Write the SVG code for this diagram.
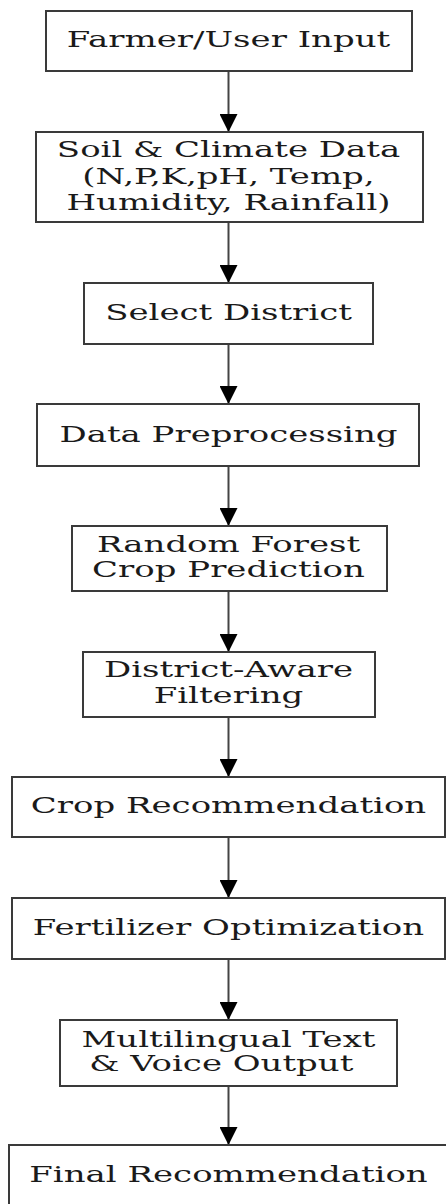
<svg xmlns="http://www.w3.org/2000/svg" width="446" height="1204" viewBox="0 0 446 1204">
<style>
.box{fill:#fff;stroke:#3a3a3a;stroke-width:2}
.t{font-family:"DejaVu Serif","Liberation Serif",serif;font-size:22.5px;fill:#1a1a1a;text-anchor:middle}
.edge{stroke:#444;stroke-width:2;fill:none;marker-end:url(#ah)}
</style>
<defs>
<marker id="ah" viewBox="0 0 18 18" markerWidth="18" markerHeight="18" markerUnits="userSpaceOnUse" refX="18" refY="9" orient="auto">
<path d="M0,0 L18,9 L0,18 z" fill="#000"/>
</marker>
</defs>
<rect width="446" height="1204" fill="#fff"/>
<g id="connectors">
<line class="edge" x1="228.5" y1="71" x2="228.5" y2="132"/>
<line class="edge" x1="228.5" y1="222" x2="228.5" y2="283"/>
<line class="edge" x1="228.5" y1="344" x2="228.5" y2="404"/>
<line class="edge" x1="228.5" y1="466" x2="228.5" y2="526"/>
<line class="edge" x1="228.5" y1="591" x2="228.5" y2="652"/>
<line class="edge" x1="228.5" y1="717" x2="228.5" y2="777"/>
<line class="edge" x1="228.5" y1="837" x2="228.5" y2="898"/>
<line class="edge" x1="228.5" y1="959" x2="228.5" y2="1020"/>
<line class="edge" x1="228.5" y1="1086" x2="228.5" y2="1145"/>
</g>
<g id="n1"><rect class="box" x="46" y="11" width="366" height="60"/>
<g transform="translate(228.5 0) scale(1.51 1)"><text class="t" x="0" y="47">Farmer/User Input</text></g></g>
<g id="n2"><rect class="box" x="36" y="132" width="387" height="90"/>
<g transform="translate(228.5 0) scale(1.51 1)">
<text class="t" x="0" y="157.3">Soil &amp; Climate Data</text>
<text class="t" x="0" y="183.8">(N,P,K,pH, Temp,</text>
<text class="t" x="0" y="210.3">Humidity, Rainfall)</text></g></g>
<g id="n3"><rect class="box" x="84" y="283" width="289" height="61"/>
<g transform="translate(228.5 0) scale(1.51 1)"><text class="t" x="0" y="320">Select District</text></g></g>
<g id="n4"><rect class="box" x="37" y="404" width="382" height="62"/>
<g transform="translate(228.5 0) scale(1.51 1)"><text class="t" x="0" y="441.7">Data Preprocessing</text></g></g>
<g id="n5"><rect class="box" x="72" y="526" width="315" height="65"/>
<g transform="translate(228.5 0) scale(1.51 1)">
<text class="t" x="0" y="551.7">Random Forest</text>
<text class="t" x="0" y="577.3">Crop Prediction</text></g></g>
<g id="n6"><rect class="box" x="83" y="652" width="292" height="65"/>
<g transform="translate(228.5 0) scale(1.51 1)">
<text class="t" x="0" y="677.3">District-Aware</text>
<text class="t" x="0" y="702.7">Filtering</text></g></g>
<g id="n7"><rect class="box" x="12" y="777" width="433" height="60"/>
<g transform="translate(228.5 0) scale(1.51 1)"><text class="t" x="0" y="813.3">Crop Recommendation</text></g></g>
<g id="n8"><rect class="box" x="12" y="898" width="433" height="61"/>
<g transform="translate(228.5 0) scale(1.51 1)"><text class="t" x="0" y="935">Fertilizer Optimization</text></g></g>
<g id="n9"><rect class="box" x="60" y="1020" width="337" height="66"/>
<g transform="translate(228.5 0) scale(1.51 1)">
<text class="t" x="0" y="1046.7">Multilingual Text</text>
<text class="t" x="-4.8" y="1071">&amp; Voice Output</text></g></g>
<g id="n10"><rect class="box" x="9" y="1145" width="450" height="80"/>
<g transform="translate(228.5 0) scale(1.51 1)"><text class="t" x="0" y="1181.7">Final Recommendation</text></g></g>
</svg>
